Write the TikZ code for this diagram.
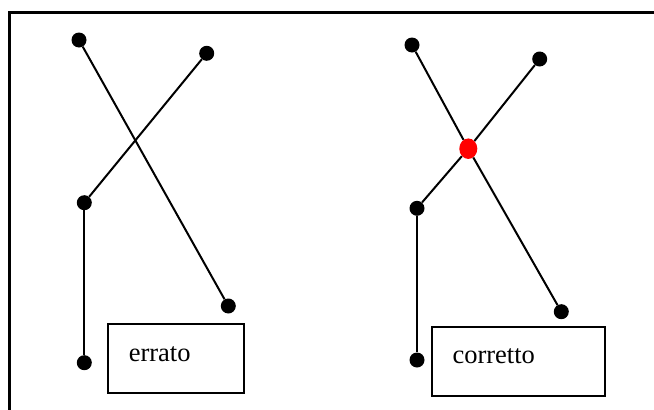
\documentclass[tikz,border=0pt]{standalone}
\usepackage{xcolor}
\usepackage{tikz}
\usepackage{fontspec}
\setmainfont{Liberation Serif}
\usetikzlibrary{shapes.geometric}

\begin{document}
\begin{tikzpicture}[x=1pt, y=-1pt]
    % Define styles
    \tikzstyle{dot} = [circle, fill=black, inner sep=0pt, minimum size=15pt]
    \tikzstyle{crossdot} = [ellipse, fill=red, inner sep=0pt, minimum width=18pt, minimum height=20.5pt]
    \tikzstyle{wire} = [line width=2pt, black]
    \tikzstyle{textbox} = [rectangle, draw=black, line width=2pt, anchor=north west, inner xsep=20.5pt, inner ysep=0pt, minimum height=69pt, align=left, text height=20pt, text depth=15pt, font=\fontsize{26.5}{30}\selectfont]

    \useasboundingbox (0,0) rectangle (654,410);
    \draw [line width=2.5pt] (660,12.4) -- (9.5,12.4) -- (9.5,416);

    % Nodes: errato
    \node [dot] (e1) at (79,40) {};
    \node [dot] (e2) at (206.7,53.3) {};
    \node [dot] (e3) at (84.3,202.7) {};
    \node [dot] (e4) at (228.3,306) {};
    \node [dot] (e5) at (84.3,362.7) {};
    \node [textbox, minimum width=135.4pt, text width=94.4pt] (wrong) at (107.3,323.3) {errato};

    % Nodes: corretto
    \node [dot] (c1) at (412,45) {};
    \node [dot] (c2) at (539.7,59) {};
    \node [crossdot] (cross) at (468.3,148.7) {};
    \node [dot] (c3) at (417,208.3) {};
    \node [dot] (c4) at (561.3,311.7) {};
    \node [dot] (c5) at (417,360) {};
    \node [textbox, minimum width=173.3pt, text width=132.3pt] (right) at (431,325.7) {corretto};

    % Lines
    \draw [wire] (e1) -- (e4);
    \draw [wire] (e2) -- (e3);
    \draw [wire] (e3) -- (e5);
    \draw [wire] (c1) -- (cross);
    \draw [wire] (cross) -- (c4);
    \draw [wire] (c2) -- (cross);
    \draw [wire] (cross) -- (c3);
    \draw [wire] (c3) -- (c5);
\end{tikzpicture}
\end{document}
